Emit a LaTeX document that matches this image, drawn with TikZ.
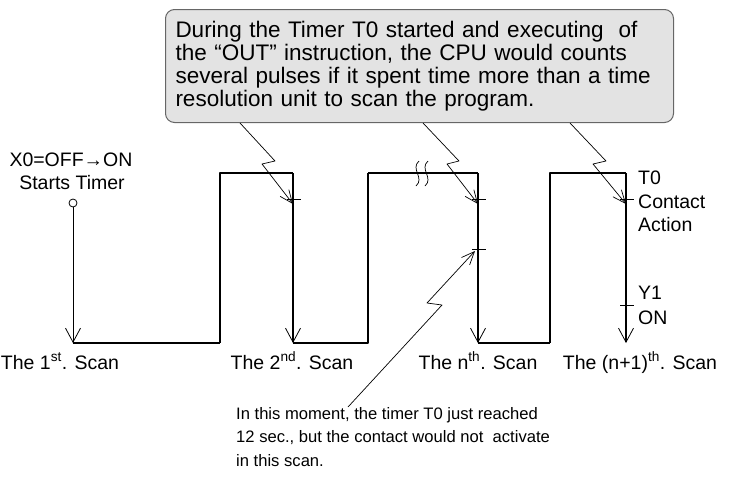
\documentclass[tikz,border=0pt]{standalone}
\usepackage{fontspec}
\setmainfont{Liberation Sans}
\usetikzlibrary{arrows.meta}

\tikzset{
  thinwave/.style={line width=1.1pt},
  thickwave/.style={line width=2.2pt},
  scanarrow/.style={-{Straight Barb[length=14pt,width=15pt,line width=0.8pt]}},
  callarrow/.style={line width=0.7pt,-{Straight Barb[length=13pt,width=11pt,line width=0.7pt]}},
  tickmark/.style={line width=1pt},
  lbl/.style={font=\fontsize{19.5}{23}\selectfont, inner sep=0pt, anchor=base},
  notebox/.style={draw=black!60, fill=black!11, line width=1pt, rounded corners=9pt,
    align=left, text width=488pt, inner xsep=10pt, minimum height=113pt,
    font=\fontsize{22.5}{23}\selectfont},
}

\begin{document}
\begin{tikzpicture}[x=1pt,y=-1pt,line join=round]
  \useasboundingbox (0,0) rectangle (731,480);

  % Callout box on top
  \node[notebox, anchor=north west] (note) at (165,9)
    {During the Timer T0 started and executing\ \ of\\
     the ``OUT'' instruction, the CPU would counts\\
     several pulses if it spent time more than a time\\
     resolution unit to scan the program.};

  % Corners of the scan wave
  \coordinate (start) at (73,203);
  \coordinate (low1) at (73,343);   \coordinate (rise1) at (220,343);
  \coordinate (high1) at (220,173); \coordinate (fall2) at (293,173);
  \coordinate (low2) at (293,343);  \coordinate (rise2) at (368,343);
  \coordinate (high2) at (368,173); \coordinate (fall3) at (478,173);
  \coordinate (low3) at (478,343);  \coordinate (rise3) at (550,343);
  \coordinate (high3) at (550,173); \coordinate (fall4) at (626,173);
  \coordinate (low4) at (626,343);

  % Scan wave
  \draw[line width=0.8pt] (start) circle (4pt);
  \draw[line width=0.9pt,scanarrow] ([yshift=-4pt]start) -- (low1);
  \draw[thickwave] (low1) -- (rise1);
  \draw[thinwave] (rise1) -- (high1) -- (fall2);
  \draw[thinwave,scanarrow] (fall2) -- (low2);
  \draw[thickwave] (low2) -- (rise2) -- (high2);
  \draw[thinwave] (high2) -- (fall3);
  \draw[thinwave,scanarrow] (fall3) -- (low3);
  \draw[thinwave] (low3) -- (rise3);
  \draw[thickwave] (rise3) -- (high3) -- (fall4);
  \draw[thickwave,scanarrow] (fall4) -- (low4);

  % Break mark on the long high level
  \draw[line width=0.7pt] (419,161) .. controls (410,169) and (425,178) .. (416,186);
  \draw[line width=0.7pt] (428,161) .. controls (419,169) and (434,178) .. (425,186);

  % Tick marks
  \coordinate (tick2) at (293,199);
  \coordinate (tickn) at (478,199);
  \coordinate (reach) at (478,249);
  \coordinate (tickm) at (626,199);
  \coordinate (outy) at (626,305);
  \foreach \pt in {tick2, tickn, reach, tickm, outy}
    \draw[tickmark] ([xshift=-6pt]\pt) -- ([xshift=8pt]\pt);

  % Callout arrows
  \draw[callarrow] (note.south west -| 240,0) -- (275,161) -- (262,164) -- ([yshift=-5pt]tick2);
  \draw[callarrow] (note.south west -| 423,0) -- (459,161) -- (447,164) -- ([yshift=-5pt]tickn);
  \draw[callarrow] (note.south west -| 570,0) -- (606,161) -- (593,164) -- ([yshift=-5pt]tickm);

  % Labels
  \node[lbl] (x0) at (71,166) {X0=OFF→ON};
  \node[lbl] (starts) at (72,189) {Starts Timer};
  \node[lbl] (scan1) at (60,369) {The 1\textsuperscript{st}. Scan};
  \node[lbl] (scan2) at (292,369) {The 2\textsuperscript{nd}. Scan};
  \node[lbl] (scann) at (478,369) {The n\textsuperscript{th}. Scan};
  \node[lbl] (scanm) at (640,369) {The (n+1)\textsuperscript{th}. Scan};
  \node[lbl, anchor=base west] (t0) at (638,184) {T0};
  \node[lbl, anchor=base west] (contact) at (638,208) {Contact};
  \node[lbl, anchor=base west] (action) at (638,231) {Action};
  \node[lbl, anchor=base west] (y1) at (638,299) {Y1};
  \node[lbl, anchor=base west] (on) at (638,324) {ON};

  % Note below
  \node[lbl, anchor=north west, align=left, font=\fontsize{16.6}{23.5}\selectfont]
    (moment) at (236,407)
    {In this moment, the timer T0 just reached\\
     12 sec., but the contact would not\ \ activate\\
     in this scan.};
  \draw[callarrow] (moment.north west -| 348,0) -- (442,305) -- (427,303) -- ([yshift=-2pt,xshift=-3pt]reach);
\end{tikzpicture}
\end{document}
